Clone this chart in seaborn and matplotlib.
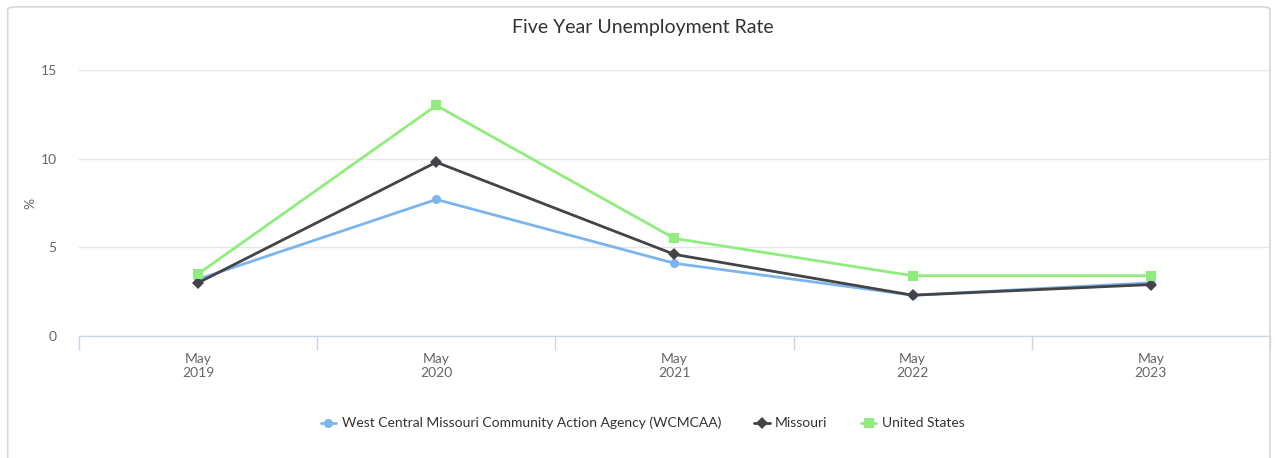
import pandas as pd
import matplotlib.pyplot as plt
import seaborn as sns
from matplotlib.patches import FancyBboxPatch

# Data
periods = ["May\n2019", "May\n2020", "May\n2021", "May\n2022", "May\n2023"]
series_names = ["West Central Missouri Community Action Agency (WCMCAA)", "Missouri", "United States"]
wcmcaa = [3.2, 7.7, 4.1, 2.3, 3.0]
missouri = [3.0, 9.8, 4.6, 2.3, 2.9]
united_states = [3.5, 13.0, 5.5, 3.4, 3.4]

colors = ["#7cb5ec", "#434348", "#90ed7d"]
markers = ["o", "D", "s"]

sns.set_theme(style="white")
plt.rcParams['font.family'] = ['Lato', 'DejaVu Sans']

rows = []
for name, vals in zip(series_names, [wcmcaa, missouri, united_states]):
    for i, v in enumerate(vals):
        rows.append({"pos": i, "rate": v, "series": name})
df = pd.DataFrame(rows)

fig = plt.figure(figsize=(12.75, 4.58), dpi=100)
ax = fig.add_axes([0.062, 0.2664, 0.934, 0.5808])

# Rounded chart border
border = FancyBboxPatch((0.006, -0.05), 0.99, 1.035, boxstyle="round,pad=0,rounding_size=0.006",
                        transform=fig.transFigure, facecolor="none", edgecolor="#d8d8d8",
                        linewidth=1.2, zorder=0)
fig.patches.append(border)

sns.lineplot(data=df, x="pos", y="rate", hue="series", style="series",
             hue_order=series_names, style_order=series_names,
             palette=colors, markers=markers, dashes=False,
             markersize=6.5, linewidth=2, markeredgewidth=0, ax=ax, legend=False)

ax.set_xlim(-0.5, 4.5)
ax.set_ylim(0, 15)
ax.set_yticks([0, 5, 10, 15])
ax.set_xticks(range(len(periods)))
ax.set_xticklabels(periods)
ax.set_xticks([i - 0.5 for i in range(len(periods) + 1)], minor=True)
ax.tick_params(axis="x", which="major", bottom=False, length=0, pad=12, labelsize=10, labelcolor="#666666")
ax.tick_params(axis="x", which="minor", bottom=True, length=10, width=1, color="#ccd6eb", direction="out")
ax.tick_params(axis="y", length=0, pad=16, labelsize=10, labelcolor="#666666")
ax.grid(axis="y", color="#e6e6e6", linewidth=1)
ax.set_axisbelow(True)
for side in ["top", "right", "left"]:
    ax.spines[side].set_visible(False)
ax.spines["bottom"].set_color("#ccd6eb")
ax.spines["bottom"].set_linewidth(1)
ax.set_xlabel("")
ax.set_ylabel("")
fig.text(30 / 1275, 1 - 203 / 458, "%", rotation=90, ha="center", va="center",
         color="#666666", fontsize=10)

fig.text(0.504, 0.94, "Five Year Unemployment Rate", ha="center", va="center",
         fontsize=14, color="#333333")

# Legend
handles = [plt.Line2D([], [], color=c, marker=m, linewidth=2, markersize=6.5, markeredgewidth=0)
           for c, m in zip(colors, markers)]
fig.legend(handles, series_names, loc="center", bbox_to_anchor=(0.504, 0.076), ncol=3,
           frameon=False, fontsize=10, handlelength=1.1, handletextpad=0.4, columnspacing=2.4,
           labelcolor="#333333")

fig.savefig("out.png", dpi=100, facecolor="white")
